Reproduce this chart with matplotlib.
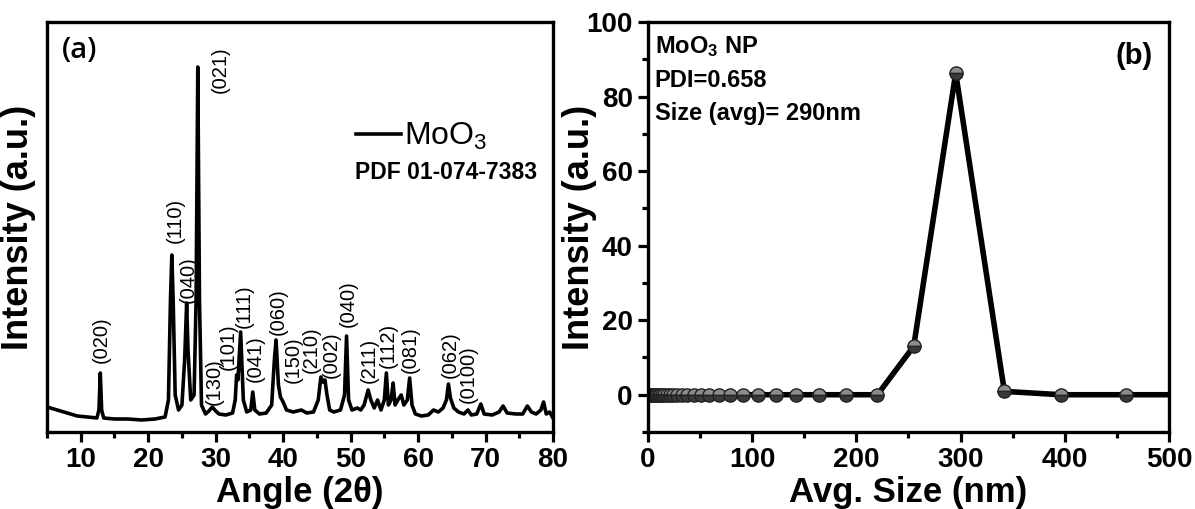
import matplotlib
matplotlib.use('Agg')
import matplotlib.pyplot as plt
from matplotlib.ticker import MultipleLocator, NullLocator

plt.rcParams['font.family'] = ['Liberation Sans', 'DejaVu Sans']
plt.rcParams['mathtext.fontset'] = 'custom'
plt.rcParams['mathtext.rm'] = 'Liberation Sans'
plt.rcParams['mathtext.bf'] = 'Liberation Sans:bold'
plt.rcParams['mathtext.it'] = 'Liberation Sans:italic'

# (a) XRD pattern (a.u.)
two_theta = [5.0, 5.5, 6.5, 7.5, 8.5, 9.5, 11.0, 12.4, 12.7, 12.9, 13.1, 13.4, 15.0, 17.0, 19.0,
             21.0, 22.5, 23.0, 23.3, 23.5, 23.7, 24.0, 24.5, 25.0, 25.4, 25.7, 25.9, 26.3, 26.8,
             27.1, 27.35, 27.6, 27.9, 28.5, 29.0, 29.5, 30.0, 30.5, 31.5, 32.5, 32.9, 33.1, 33.3,
             33.7, 34.1, 34.6, 35.2, 35.5, 35.8, 36.5, 37.5, 38.3, 38.7, 38.95, 39.3, 39.6, 40.0,
             40.5, 41.5, 42.7, 43.5, 44.5, 45.2, 45.6, 45.9, 46.2, 46.5, 46.9, 47.5, 48.5, 49.1,
             49.4, 49.7, 50.2, 51.0, 51.5, 52.0, 52.6, 53.0, 53.5, 54.0, 54.5, 55.0, 55.3, 55.6,
             56.0, 56.3, 56.6, 57.0, 57.5, 57.9, 58.4, 58.75, 59.1, 59.6, 60.5, 61.5, 62.3, 63.0,
             63.7, 64.2, 64.5, 64.8, 65.3, 66.0, 66.8, 67.4, 67.9, 68.7, 69.3, 69.8, 71.0, 72.0,
             72.6, 73.2, 74.5, 75.5, 76.2, 76.8, 77.5, 78.2, 78.6, 79.0, 79.5, 80.0]
intensity = [250, 240, 220, 200, 180, 160, 150, 140, 220, 590, 220, 140, 130, 130, 120,
             130, 150, 320, 1320, 1770, 1320, 370, 220, 270, 720, 1290, 820, 320, 370,
             1320, 3650, 1320, 270, 180, 210, 250, 210, 180, 170, 190, 320, 570, 520,
             1000, 320, 200, 220, 400, 220, 180, 190, 270, 720, 920, 470, 350, 300,
             220, 200, 220, 190, 200, 320, 550, 500, 520, 370, 220, 200, 220, 370,
             960, 320, 220, 240, 220, 270, 420, 320, 240, 320, 220, 320, 590, 270,
             320, 490, 270, 320, 370, 270, 320, 540, 270, 180, 160, 170, 220, 200,
             240, 320, 480, 340, 240, 200, 180, 220, 170, 180, 280, 180, 170, 200,
             260, 190, 180, 180, 260, 200, 180, 220, 300, 180, 200, 140]

peak_labels = ["(020)", "(110)", "(040)", "(021)", "(130)", "(101)", "(111)", "(041)", "(060)",
               "(150)", "(210)", "(002)", "(040)", "(211)", "(112)", "(081)", "(062)", "(0100)"]
peak_label_x = [13.0, 24.0, 25.9, 30.7, 29.75, 31.85, 34.2, 35.8, 39.3,
                41.5, 44.1, 47.2, 49.6, 52.7, 55.6, 58.9, 64.8, 67.5]
peak_label_y = [690, 1890, 1290, 3390, 270, 620, 1040, 500, 970,
                490, 590, 540, 1050, 490, 640, 590, 540, 290]

# (b) DLS size distribution
dls_size = [0.4, 0.4632, 0.5365, 0.6213, 0.7195, 0.8332, 0.9649, 1.117, 1.294, 1.499, 1.736,
            2.01, 2.328, 2.696, 3.122, 3.615, 4.187, 4.849, 5.615, 6.503, 7.531, 8.721, 10.1,
            11.7, 13.54, 15.69, 18.17, 21.04, 24.36, 28.21, 32.67, 37.84, 43.82, 50.75, 58.77,
            68.06, 78.82, 91.28, 105.7, 122.4, 141.8, 164.2, 190.1, 220.2, 255.0, 295.3, 342.0,
            396.1, 458.7, 531.2]
dls_intensity = [0] * 44 + [13.0, 86.3, 0.9, 0, 0, 0]

fig = plt.figure(figsize=(11.95, 5.09), dpi=100)
ax1 = fig.add_axes([47 / 1195, 77 / 509, 506 / 1195, 410 / 509])
ax2 = fig.add_axes([648 / 1195, 77 / 509, 521 / 1195, 410 / 509])

for ax in (ax1, ax2):
    for s in ax.spines.values():
        s.set_linewidth(2.4)
    ax.tick_params(which='major', direction='out', length=7, width=2.3, labelsize=20, pad=4)
    ax.tick_params(which='minor', direction='out', length=4.5, width=2.3)

# ---- panel (a)
line, = ax1.plot(two_theta, intensity, color='black', lw=2.6, label='MoO$_3$')
ax1.set_xlim(5, 80)
ax1.set_ylim(0, 4100)
ax1.xaxis.set_major_locator(MultipleLocator(10))
ax1.xaxis.set_minor_locator(MultipleLocator(5))
ax1.yaxis.set_major_locator(NullLocator())
ax1.set_xticks(range(10, 81, 10))
ax1.set_xticklabels([str(v) for v in range(10, 81, 10)], fontweight='bold')
ax1.set_xlabel('Angle (2θ)', fontsize=25, fontweight='bold')
ax1.set_ylabel('Intensity (a.u.)', fontsize=26, fontweight='bold')
ax1.xaxis.set_label_coords(0.5, -0.108)
ax1.yaxis.set_label_coords(-0.022, 0.5)

for txt, x, y in zip(peak_labels, peak_label_x, peak_label_y):
    ax1.text(x, y, txt, rotation=90, ha='center', va='bottom', fontsize=14.5)

leg = ax1.legend(handles=[line], loc='upper left', bbox_to_anchor=(0.585, 0.79), frameon=False,
                 fontsize=23, handlelength=1.4, handletextpad=0.1, borderaxespad=0)
ax1.text(0.608, 0.632, 'PDF 01-074-7383', transform=ax1.transAxes, fontsize=16.5,
         fontweight='bold', va='center', ha='left')
ax1.text(0.03, 0.965, '(a)', transform=ax1.transAxes, fontsize=21, fontweight='semibold',
         family=['Open Sans', 'DejaVu Sans'], va='top', ha='left')

# ---- panel (b)
ax2.plot(dls_size, dls_intensity, color='black', lw=4.0, marker='o', markersize=9.5,
         fillstyle='top', markerfacecolor='#8c8c8c', markerfacecoloralt='#3a3a3a',
         markeredgecolor='#222222', markeredgewidth=1.0)
ax2.set_xlim(0, 500)
ax2.set_ylim(-10, 100)
ax2.xaxis.set_major_locator(MultipleLocator(100))
ax2.xaxis.set_minor_locator(MultipleLocator(50))
ax2.yaxis.set_major_locator(MultipleLocator(20))
ax2.yaxis.set_minor_locator(MultipleLocator(10))
ax2.set_xlabel('Avg. Size (nm)', fontsize=25, fontweight='bold')
ax2.set_ylabel('Intensity (a.u.)', fontsize=26, fontweight='bold')
ax2.xaxis.set_label_coords(0.5, -0.108)
ax2.yaxis.set_label_coords(-0.098, 0.5)

for ax in (ax1, ax2):
    for lab in ax.get_xticklabels() + ax.get_yticklabels():
        lab.set_fontweight('bold')

ax2.text(0.013, 0.97, r'MoO$_\mathbf{3}$ NP', transform=ax2.transAxes, fontsize=17,
         fontweight='bold', va='top', ha='left')
ax2.text(0.013, 0.885, 'PDI=0.658', transform=ax2.transAxes, fontsize=17,
         fontweight='bold', va='top', ha='left')
ax2.text(0.013, 0.805, 'Size (avg)= 290nm', transform=ax2.transAxes, fontsize=17,
         fontweight='bold', va='top', ha='left')
ax2.text(0.969, 0.95, '(b)', transform=ax2.transAxes, fontsize=21, fontweight='bold',
         va='top', ha='right')

fig.savefig('out.png', dpi=100)
